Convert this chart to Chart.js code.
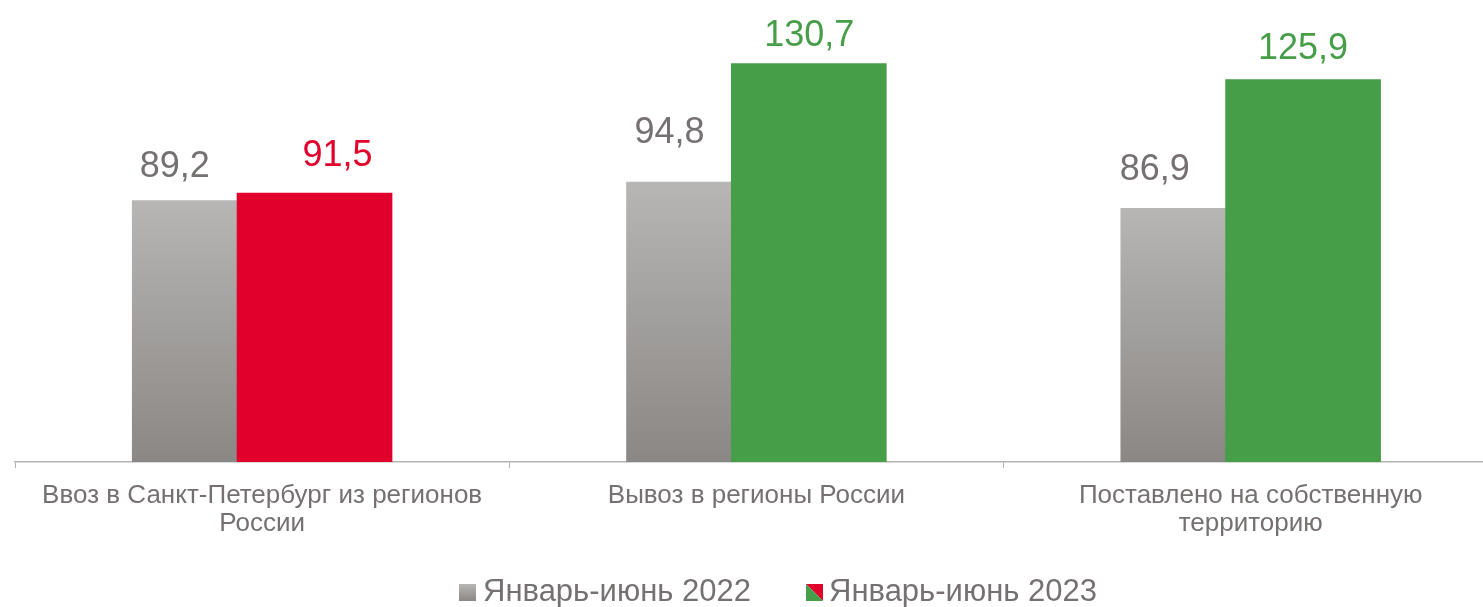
<!DOCTYPE html>
<html>
<head>
<meta charset="utf-8">
<script src="https://cdn.jsdelivr.net/npm/chart.js@4.4.1/dist/chart.umd.min.js"></script>
<style>
  html, body { margin: 0; padding: 0; background: #fff; overflow: hidden; }
  #wrap { position: relative; width: 1483px; height: 607px; }
</style>
</head>
<body>
<div id="wrap"><canvas id="chart"></canvas></div>
<script>
// categories (multi line labels) and the two periods
const categories = [
  ['Ввоз в Санкт-Петербург из регионов', 'России'],
  ['Вывоз в регионы России'],
  ['Поставлено на собственную', 'территорию']
];
const seriesNames = ['Январь-июнь 2022', 'Январь-июнь 2023'];
const values2022 = [89.2, 94.8, 86.9];
const values2023 = [91.5, 130.7, 125.9];
const colors2023 = ['#e1002b', '#479e48', '#479e48'];

const FONT = "'Liberation Sans', Arial, sans-serif";
const TEXT_GRAY = '#767171';
const AXIS_GRAY = '#b4b4b4';
const BAR_SHIFT = 0.106;   // overlap: each bar sits this far off the category centre
const X_MIN = -0.5, X_MAX = 2.47;  // right edge of the plot is cropped in the source

const fmt = v => v.toFixed(1).replace('.', ',');

// gray bars fade from light at the top to darker at the base
function grayGradient(c) {
  const chart = c.chart;
  if (!chart.chartArea || !c.parsed) return '#a3a19f';
  const y = chart.scales.y;
  const top = y.getPixelForValue(c.parsed.y);
  const bot = y.getPixelForValue(y.min);
  const g = chart.ctx.createLinearGradient(0, top, 0, bot);
  g.addColorStop(0, '#b7b6b4');
  g.addColorStop(1, '#8b8785');
  return g;
}

// value labels were hand placed in the source, so nudge each one
const labelNudge = [
  { dx: [-35, -34.5, -43.5], gap: [24, 39, 28] },
  { dx: [23, 0.5, 0], gap: [27, 18, 21] }
];

const valueLabels = {
  id: 'valueLabels',
  afterDatasetsDraw(chart) {
    const ctx = chart.ctx;
    ctx.save();
    ctx.font = '36px ' + FONT;
    ctx.textAlign = 'center';
    ctx.textBaseline = 'alphabetic';
    chart.data.datasets.forEach((ds, di) => {
      const meta = chart.getDatasetMeta(di);
      meta.data.forEach((el, i) => {
        ctx.fillStyle = di === 0 ? TEXT_GRAY : colors2023[i];
        const n = labelNudge[di];
        ctx.fillText(fmt(ds.data[i].y), el.x + n.dx[i], el.y - n.gap[i]);
      });
    });
    ctx.restore();
  }
};

// legend drawn by hand to get the tight marker/text spacing of the source
const customLegend = {
  id: 'customLegend',
  afterDraw(chart) {
    const ctx = chart.ctx;
    const y0 = 584, s = 17;
    ctx.save();
    // 2022 marker
    let mx = 459;
    const g = ctx.createLinearGradient(0, y0, 0, y0 + s);
    g.addColorStop(0, '#b7b6b4');
    g.addColorStop(1, '#8b8785');
    ctx.fillStyle = g;
    ctx.fillRect(mx, y0, s, s);
    // 2023 marker: red / green split on the diagonal
    mx = 806;
    ctx.fillStyle = colors2023[0];
    ctx.beginPath(); ctx.moveTo(mx, y0); ctx.lineTo(mx + s, y0); ctx.lineTo(mx + s, y0 + s); ctx.closePath(); ctx.fill();
    ctx.fillStyle = colors2023[1];
    ctx.beginPath(); ctx.moveTo(mx, y0); ctx.lineTo(mx + s, y0 + s); ctx.lineTo(mx, y0 + s); ctx.closePath(); ctx.fill();

    ctx.fillStyle = TEXT_GRAY;
    ctx.font = '31px ' + FONT;
    ctx.textAlign = 'left';
    ctx.textBaseline = 'alphabetic';
    ctx.fillText(seriesNames[0], 483, 601);
    ctx.fillText(seriesNames[1], 829, 601);
    ctx.restore();
  }
};

new Chart(document.getElementById('chart'), {
  type: 'bar',
  data: {
    datasets: [
      {
        label: seriesNames[0],
        data: values2022.map((v, i) => ({ x: i - BAR_SHIFT, y: v })),
        backgroundColor: grayGradient,
        order: 2
      },
      {
        label: seriesNames[1],
        data: values2023.map((v, i) => ({ x: i + BAR_SHIFT, y: v })),
        backgroundColor: colors2023,
        order: 1
      }
    ]
  },
  options: {
    responsive: true,
    maintainAspectRatio: false,
    animation: false,
    events: [],
    grouped: false,
    barThickness: 155,
    borderWidth: 0,
    layout: { padding: { left: 15, right: 0, top: 0, bottom: 55 } },
    plugins: { legend: { display: false }, tooltip: { enabled: false } },
    scales: {
      x: {
        type: 'linear',
        position: 'bottom',
        min: X_MIN, max: X_MAX,
        offset: false,
        afterBuildTicks: s => { s.ticks = [-0.5, 0.5, 1.5].map(v => ({ value: v })); },
        grid: { offset: false, drawOnChartArea: false, drawTicks: true, tickLength: 6, color: AXIS_GRAY, lineWidth: 1 },
        border: { display: true, color: AXIS_GRAY, width: 1.5 },
        ticks: { display: false }
      },
      xl: {
        type: 'linear',
        position: 'bottom',
        min: X_MIN, max: X_MAX,
        offset: false,
        afterBuildTicks: s => { s.ticks = categories.map((c, i) => ({ value: i })); },
        grid: { display: false, drawTicks: false },
        border: { display: false },
        ticks: {
          autoSkip: false, maxRotation: 0, minRotation: 0,
          padding: 14,
          color: TEXT_GRAY,
          font: { family: FONT, size: 26, lineHeight: '28px' },
          callback: v => categories[v]
        }
      },
      y: {
        display: false,
        min: 10, max: 150
      }
    }
  },
  plugins: [valueLabels, customLegend]
});
</script>
</body>
</html>
